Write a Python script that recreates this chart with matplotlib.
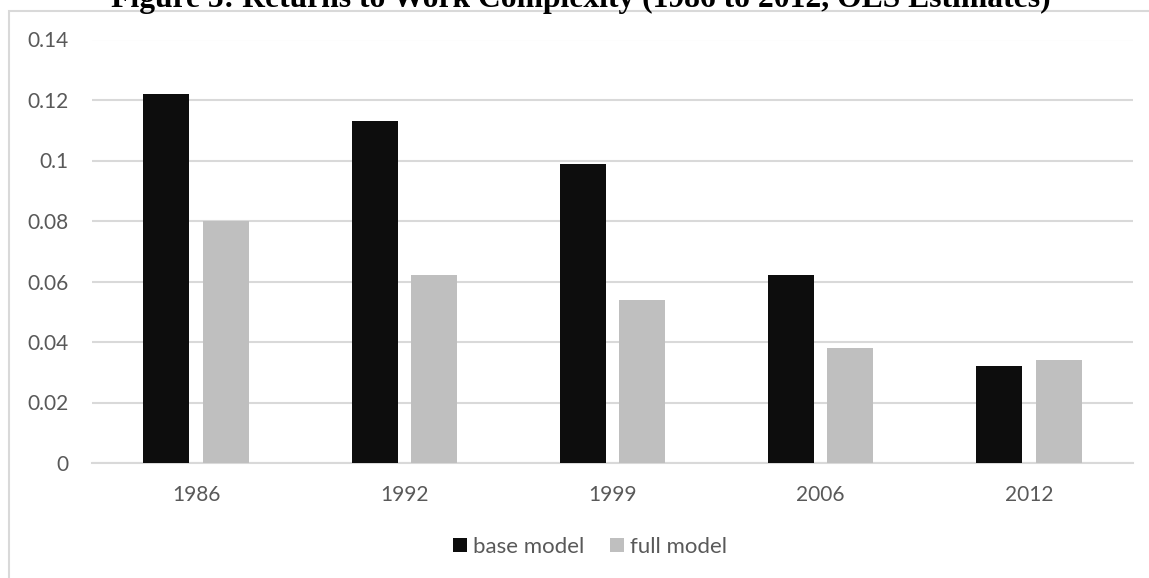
import numpy as np
import matplotlib
matplotlib.use('Agg')
import matplotlib.pyplot as plt
from matplotlib.patches import Rectangle

years = ['1986', '1992', '1999', '2006', '2012']
base_model = [0.122, 0.113, 0.099, 0.062, 0.032]
full_model = [0.080, 0.062, 0.054, 0.038, 0.034]
y_ticks = [0, 0.02, 0.04, 0.06, 0.08, 0.1, 0.12, 0.14]
y_tick_labels = ['0', '0.02', '0.04', '0.06', '0.08', '0.1', '0.12', '0.14']

W, H = 1149, 578
fig = plt.figure(figsize=(W / 100, H / 100), dpi=100)

# chart frame (cut off at right and bottom like the source)
fig.patches.append(Rectangle((9 / W, -0.1), 1.2, 1 - 11 / H + 0.1,
                             transform=fig.transFigure, fill=False,
                             edgecolor='#d9d9d9', linewidth=1.5, zorder=0))

# title, mostly cropped at the top
fig.text(581 / W, 1 - 7.5 / H, 'Figure 5: Returns to Work Complexity (1986 to 2012, OLS Estimates)',
         ha='center', va='baseline', fontsize=22.8, fontweight='bold',
         family='Liberation Serif', color='black')

ax = fig.add_axes([92 / W, 1 - 463 / H, (1133 - 92) / W, (463 - 39.5) / H])

x = np.arange(len(years))
w = 0.221
off = 0.143
ax.bar(x - off, base_model, w, color='#0d0d0d', label='base model', zorder=3)
ax.bar(x + off, full_model, w, color='#bfbfbf', label='full model', zorder=3)

ax.set_xlim(-0.5, len(years) - 0.5)
ax.set_ylim(0, 0.14)
ax.set_yticks(y_ticks)
ax.set_yticklabels(y_tick_labels)
ax.set_xticks(x)
ax.set_xticklabels(years)
ax.yaxis.grid(True, color='#d9d9d9', linewidth=1.5, zorder=0)
ax.set_axisbelow(True)
for s in ['top', 'right', 'left']:
    ax.spines[s].set_visible(False)
ax.spines['bottom'].set_color('#d9d9d9')
ax.spines['bottom'].set_linewidth(1.5)
ax.tick_params(axis='both', length=0, labelsize=15, labelcolor='#595959')
ax.tick_params(axis='y', pad=17)
ax.tick_params(axis='x', pad=16)
for lab in ax.get_xticklabels() + ax.get_yticklabels():
    lab.set_family('Lato')

leg = fig.legend(loc='center', bbox_to_anchor=(590 / W, 1 - 547 / H), ncol=2,
                 frameon=False, handlelength=0.63, handleheight=0.63,
                 handletextpad=0.25, columnspacing=1.2,
                 prop={'family': 'Lato', 'size': 16})
for t in leg.get_texts():
    t.set_color('#595959')

fig.savefig('out.png', dpi=100)
